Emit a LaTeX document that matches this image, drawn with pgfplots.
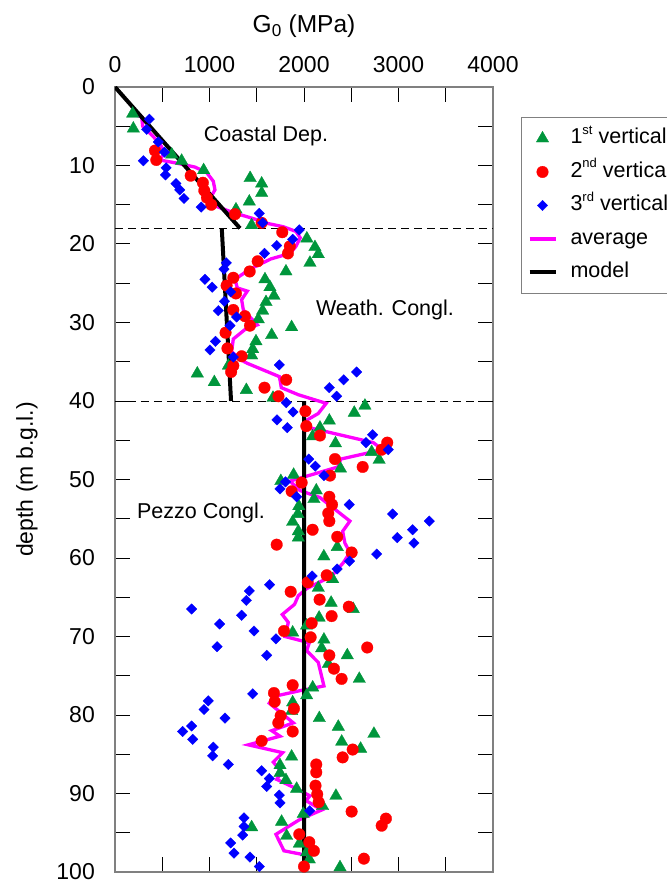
\documentclass[border=0pt]{standalone}
\usepackage{fontspec}
\setmainfont{Liberation Sans}
\usepackage{pgfplots}
\pgfplotsset{compat=1.18}
\usetikzlibrary{calc}
\definecolor{mgreen}{RGB}{0,150,60}
\definecolor{mmag}{RGB}{255,0,255}
\definecolor{framegray}{RGB}{128,128,128}
\newcommand{\sups}[1]{\raisebox{0.45em}{\fontsize{13}{15}\selectfont #1}}
\begin{document}
\begin{tikzpicture}
\begin{axis}[
  scale only axis, width=378pt, height=785pt,
  xmin=0, xmax=4000, ymin=0, ymax=100,
  y dir=reverse,
  axis line style={framegray, line width=1.2pt},
  xtick={0,1000,2000,3000,4000},
  minor xtick={500,1500,2500,3500},
  ytick={0,10,...,100},
  minor ytick={5,15,...,95},
  xtick pos=both, ytick pos=both,
  xticklabel pos=upper, yticklabel pos=lower,
  tick align=inside,
  major tick length=15pt, minor tick length=15pt,
  tick style={black, line width=1pt},
  /pgf/number format/assume math mode=true,
  /pgf/number format/1000 sep={},
  ticklabel style={font=\fontsize{23}{27}\selectfont, inner sep=0pt},
  xticklabel style={anchor=base, yshift=14pt},
  yticklabel style={anchor=east, xshift=-20pt},
  xlabel={G\textsubscript{0} (MPa)},
  xlabel style={font=\fontsize{24.5}{28}\selectfont, at={(axis description cs:0.5,1)}, anchor=base, yshift=54pt, inner sep=0pt},
  ylabel={depth (m b.g.l.)},
  ylabel style={font=\fontsize{23}{27}\selectfont, at={(axis description cs:-0.233,0.5)}, anchor=center, inner sep=0pt},
  legend style={
    at={(axis description cs:1.0741,0.9618)}, anchor=north west,
    draw=framegray, line width=1pt, fill=white,
    font=\fontsize{21.5}{25}\selectfont,
    inner xsep=6pt, inner ysep=10.5pt,
    row sep=12.5pt,
    nodes={inner sep=0pt, text height=16pt, text depth=5pt},
    /tikz/every odd column/.append style={column sep=13pt},
  },
  legend cell align=left,
  legend image code/.code={\draw[mark repeat=2,mark phase=2,#1] plot coordinates {(0pt,0pt) (13pt,0pt) (26pt,0pt)};},
]
\addplot[black, line width=1pt, dash pattern=on 8pt off 5pt, forget plot] coordinates {(0,18) (4000,18)};
\addplot[black, line width=1pt, dash pattern=on 8pt off 5pt, forget plot] coordinates {(0,40) (4000,40)};

\addplot[only marks, mark=triangle*, mgreen, mark size=7.2pt, mark options={line width=0.3pt}] table {
x y
187 3.4
194 5.3
600 8.6
705 9.4
938 10.6
1430 11.6
1552 12.3
1552 13.5
1421 14.6
1280 15.6
1446 17.6
2030 19.3
2116 20.4
2151 21.3
2063 22.4
1809 23.5
1587 24.5
1640 25.5
1682 26.6
1598 27.4
1562 28.5
1516 29.6
1869 30.6
1658 31.6
1492 32.4
1457 33.4
1446 34.2
1200 35.5
871 36.5
1051 37.6
1390 38.6
1672 39.6
2645 40.6
2532 41.5
2268 42.5
2169 43.4
2091 44.5
2333 45.4
2716 46.5
2795 47.5
2385 48.6
1890 49.4
1755 50.2
2130 51.4
2105 52.5
1945 53.4
1935 54.4
1880 55.4
1940 56.6
1940 57.4
2352 58.6
2210 59.8
2303 62.7
2151 63.8
2287 65.7
2521 66.5
2160 67.6
2028 68.6
1880 69.5
2211 70.4
2187 71.5
2458 72.4
2257 73.5
2585 75.4
2092 76.5
2028 77.5
1880 78.4
1869 79.5
2162 80.4
2363 81.5
2740 82.4
2399 83.4
2599 84.3
1869 85.3
1746 86.4
1746 87.4
1809 88.3
1922 89.4
2338 90.3
2197 91.6
1992 92.6
1763 93.6
1446 94.3
1816 95.4
1950 96.4
2028 97.5
2056 98.4
2381 99.4
};
\addlegendentry{1\sups{st} vertical}

\addplot[only marks, mark=*, red, mark size=5.8pt, mark options={line width=0.3pt}] table {
x y
423 8.1
437 9.3
801 11.3
930 12.2
945 13.2
973 14.1
1019 15.0
1270 16.2
1552 17.3
1770 18.5
1850 20.3
1830 21.2
1510 22.2
1425 23.5
1252 24.3
1181 25.3
1280 26.3
1252 28.4
1375 29.2
1428 30.4
1170 31.3
1190 33.3
1340 34.3
1252 35.5
1229 36.3
1812 37.3
1582 38.3
1730 39.4
2015 41.3
2025 43.2
2169 44.4
2881 45.3
2822 46.2
2328 47.4
2621 48.4
2275 49.5
1975 50.4
1869 51.5
2268 52.2
2297 53.2
2257 54.3
2268 55.3
2091 56.4
2352 57.3
1711 58.3
2504 59.3
2240 62.2
2040 63.1
1859 64.3
2165 65.3
2474 66.2
2292 67.4
2081 68.3
1788 69.3
2070 70.1
2669 71.4
2268 72.4
2317 74.1
2398 75.4
1880 76.2
1682 77.2
1690 78.3
1894 79.2
1753 80.1
1728 81.0
1880 82.1
1552 83.3
2515 84.4
2409 85.4
2130 86.3
2130 87.3
2122 89.0
2140 90.1
2155 91.1
2504 92.3
2867 93.2
2822 94.1
1950 95.2
2056 96.2
2105 97.3
2634 98.3
2000 99.3
};
\addlegendentry{2\sups{nd} vertical}

\addplot[only marks, mark=square*, blue, mark size=3.7pt, mark options={rotate=45, line width=0.3pt}] table {
x y
363 4.1
335 5.4
458 7.0
523 8.3
300 9.4
541 10.3
534 11.2
645 12.3
685 13.1
730 14.2
912 15.3
1527 16.1
1563 17.3
1950 18.2
1880 19.4
1711 20.2
1582 21.2
1178 22.4
1153 23.2
952 24.5
1028 25.5
1224 26.1
1158 27.3
1093 28.5
1287 29.3
1217 30.4
1063 32.4
1005 33.5
1252 34.4
1739 35.4
2557 36.3
2420 37.3
2268 38.3
2345 39.4
1812 40.2
1884 41.4
1714 42.4
1823 43.4
2726 44.3
2656 45.3
2892 46.2
2050 47.4
2120 48.3
2211 49.5
1804 50.3
1746 51.2
1922 52.2
2479 53.2
2938 54.4
3326 55.3
3150 56.4
2987 57.4
3163 58.1
2769 59.5
2482 60.4
2350 61.4
2086 62.3
1636 63.4
1421 64.2
1390 65.4
811 66.5
1340 67.3
1107 68.4
1471 69.3
1703 70.3
1080 71.3
1605 72.4
1457 77.3
987 78.2
942 79.3
1164 80.4
811 81.4
716 82.1
822 83.1
1040 84.1
1033 85.2
1199 86.3
1552 87.1
1633 88.1
1605 89.1
1739 90.2
1746 91.2
2060 92.2
1365 93.1
1365 94.2
1351 95.3
1224 96.3
1259 97.6
1428 98.1
1527 99.3
};
\addlegendentry{3\sups{rd} vertical}

\addplot[mmag, line width=3.3pt, no marks] table {
x y
176 3.4
282 3.8
293 5.0
405 6.3
494 7.6
511 8.6
476 9.3
653 9.7
846 10.2
970 10.9
1040 12.0
1058 13.1
1005 14.2
1047 15.1
1252 16.0
1446 16.7
1622 17.4
1781 17.8
1915 18.4
1960 19.2
1915 20.3
1852 21.2
1650 21.9
1428 23.2
1270 24.5
1294 25.6
1400 26.0
1340 27.1
1358 28.4
1506 30.3
1375 30.9
1252 32.1
1234 33.7
1323 34.7
1400 35.2
1740 36.9
1760 38.3
1940 39.2
2235 40.3
2150 41.6
2021 42.5
2021 43.3
2733 45.3
2832 46.2
2388 47.4
2360 48.4
1852 50.2
1957 51.4
2169 52.3
2486 55.3
2409 56.6
2433 58.1
2486 59.3
2416 60.6
2293 62.3
2028 63.9
1940 64.8
1900 65.9
1770 67.2
1834 68.2
1799 70.0
2056 70.8
2028 71.8
2151 73.3
2211 76.3
1957 76.9
1693 77.6
1633 78.5
1887 81.0
1658 82.0
1746 82.7
1411 83.8
1774 84.8
1675 86.0
1764 87.3
1711 88.2
1922 89.4
2063 90.3
2021 90.9
2187 92.1
1957 93.3
1703 95.2
1788 97.3
2000 97.8
2030 98.3
};
\addlegendentry{average}

\addplot[black, line width=4pt, no marks, unbounded coords=jump] table {
x y
0 0
1323 18
nan nan
1130 18
1228 40
nan nan
2000 40
2000 100
};
\addlegendentry{model}

\node[font=\fontsize{21.5}{26}\selectfont] at (axis cs:1598,6.2) {Coastal Dep.};
\node[font=\fontsize{21.5}{26}\selectfont] at (axis cs:2857,28.4) {Weath. Congl.};
\node[font=\fontsize{21.5}{26}\selectfont] at (axis cs:910,54.2) {Pezzo Congl.};
\coordinate (BL) at (axis cs:0,100);
\coordinate (TR) at (axis cs:4000,0);
\end{axis}
\pgfresetboundingbox
\useasboundingbox ($(BL)+(-115pt,-13pt)$) rectangle ($(TR)+(174pt,87pt)$);
\end{tikzpicture}
\end{document}
